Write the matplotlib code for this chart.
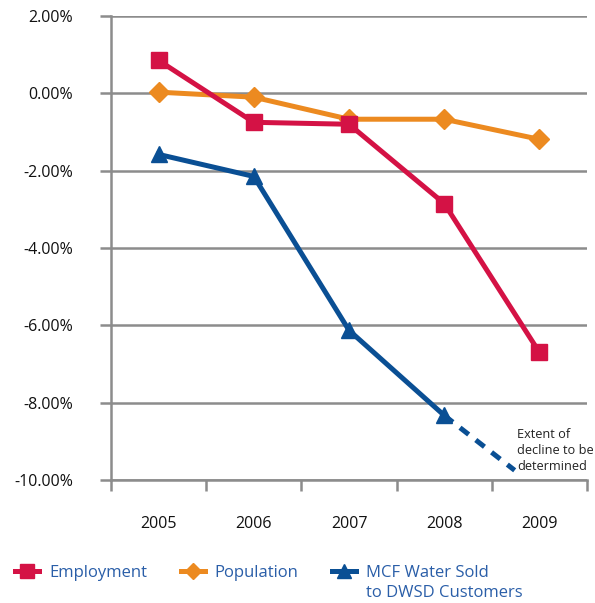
import matplotlib.pyplot as plt
from matplotlib.ticker import FuncFormatter, FixedLocator

years = ['2005', '2006', '2007', '2008', '2009']
employment = [0.85, -0.75, -0.80, -2.85, -6.70]
population = [0.03, -0.10, -0.67, -0.67, -1.19]
water_sold = [-1.58, -2.15, -6.13, -8.33]
# dashed projection after 2008
proj_x = [3, 3.74]
proj_y = [-8.33, -9.75]

red = '#d41245'
orange = '#ec8a20'
blue = '#0a4f94'
grey = '#8c8c8c'
legend_blue = '#2a5ea8'

plt.rcParams['font.family'] = ['Open Sans', 'DejaVu Sans']

fig = plt.figure(figsize=(5.95, 6.03), dpi=100)
ax = fig.add_axes([0.1866, 0.204, 0.80, 0.7695])

x = range(len(years))
ax.plot(x, employment, color=red, lw=3.6, marker='s', ms=12, label='Employment', zorder=3)
ax.plot(x, population, color=orange, lw=3.6, marker='D', ms=10, label='Population', zorder=2)
ax.plot(range(len(water_sold)), water_sold, color=blue, lw=3.6, marker='^', ms=12,
        label='MCF Water Sold', zorder=4)
ax.plot(proj_x, proj_y, color=blue, lw=3.6, ls=(0, (2.2, 1.8)), zorder=4)

ax.text(3.765, -9.23, 'Extent of\ndecline to be\ndetermined', fontsize=9.2, va='center',
        ha='left', linespacing=1.3, color='#222222')

ax.set_xlim(-0.5, 4.5)
ax.set_ylim(-10, 2)
ax.set_yticks([2, 0, -2, -4, -6, -8, -10])
ax.yaxis.set_major_formatter(FuncFormatter(lambda v, p: f'{v:.2f}%'))
ax.grid(axis='y', color=grey, lw=1.8)
ax.set_axisbelow(True)

ax.set_xticks(list(x))
ax.set_xticklabels(years, fontsize=11.5, color='#111111')
ax.xaxis.set_minor_locator(FixedLocator([-0.5, 0.5, 1.5, 2.5, 3.5, 4.5]))
ax.tick_params(axis='x', which='major', length=0, pad=26)
ax.tick_params(axis='x', which='minor', length=8, width=1.8, color=grey, direction='out')
ax.tick_params(axis='y', length=8, width=1.8, color=grey, labelsize=11.5, labelcolor='#111111', pad=19.5)

for s in ['top', 'right']:
    ax.spines[s].set_visible(False)
ax.spines['left'].set_color(grey)
ax.spines['left'].set_linewidth(1.8)
ax.spines['bottom'].set_color(grey)
ax.spines['bottom'].set_linewidth(1.8)

leg = fig.legend(loc='center left', bbox_to_anchor=(0.0255, 1 - 573 / 603), ncol=3, frameon=False,
                 fontsize=12, handlelength=1.45, handletextpad=0.6, columnspacing=2.0,
                 markerscale=0.8, borderaxespad=0, borderpad=0)
for t in leg.get_texts():
    t.set_color(legend_blue)

# second line of the last legend label, under its first line
fig.canvas.draw()
last = leg.get_texts()[-1]
bb = last.get_window_extent().transformed(fig.transFigure.inverted())
fig.text(bb.x0, bb.y0 - 0.006, 'to DWSD Customers', fontsize=12, color=legend_blue,
         ha='left', va='top')

fig.savefig('out.png', dpi=100)
